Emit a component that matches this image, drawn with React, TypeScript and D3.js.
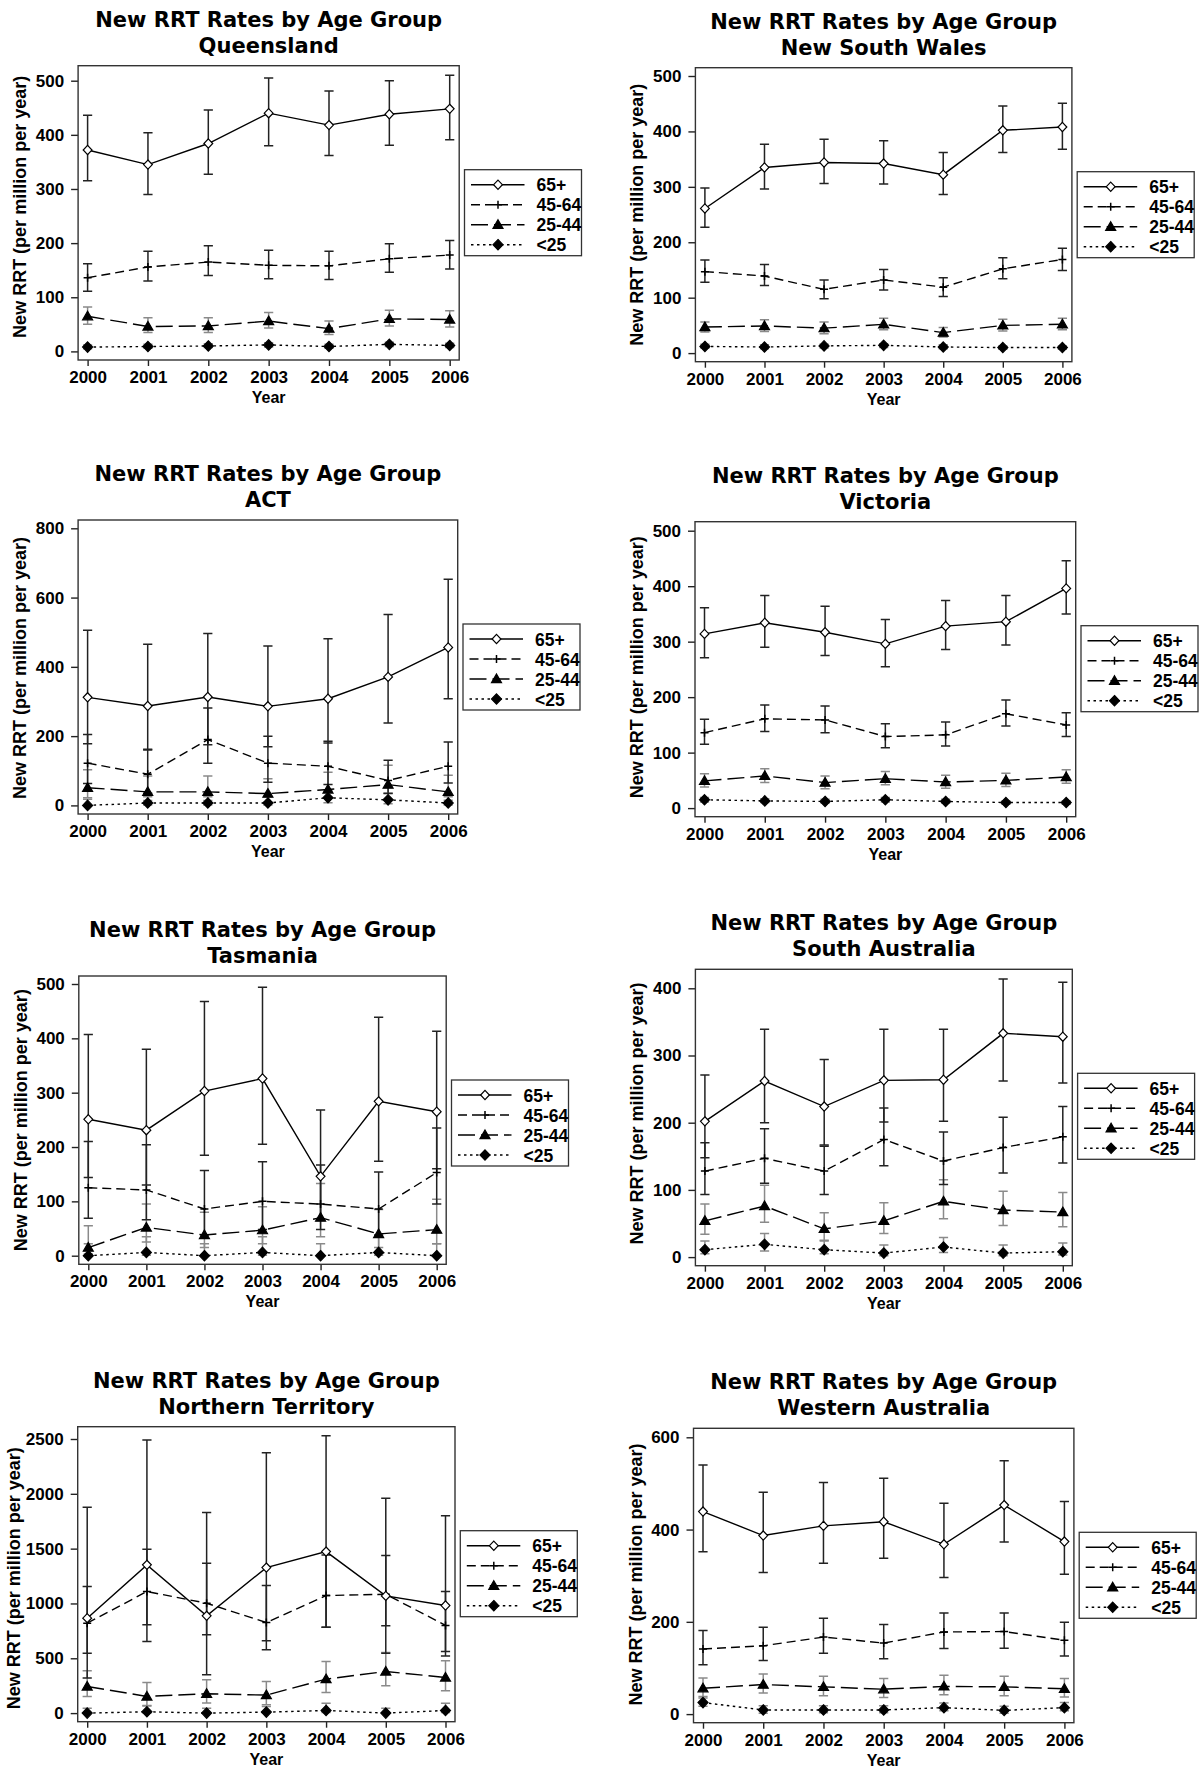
import * as d3 from 'd3';
import * as React from 'react';
import { useEffect, useRef } from 'react';

// each point is [rate, lower CI, upper CI] in new RRT per million per year
type Est = [number, number, number];

const years = [2000, 2001, 2002, 2003, 2004, 2005, 2006];
const ageGroups = ['65+', '45-64', '25-44', '<25'];

const qld65: Est[] = [[372, 315, 436], [345, 290, 404], [384, 327, 446], [440, 380, 505], [418, 362, 481], [438, 381, 500], [448, 391, 510]];
const qld4564: Est[] = [[136, 111, 162], [156, 130, 185], [165, 140, 195], [159, 134, 187], [158, 133, 185], [171, 146, 199], [178, 152, 205]];
const qld2544: Est[] = [[65, 50, 82], [46, 35, 62], [47, 35, 62], [56, 43, 72], [42, 31, 56], [60, 47, 76], [59, 45, 75]];
const qld25: Est[] = [[8, 5, 12], [9, 6, 13], [10, 7, 14], [12, 8, 16], [9, 6, 13], [13, 9, 17], [11, 7, 15]];

const nsw65: Est[] = [[261, 227, 298], [335, 296, 377], [344, 306, 386], [342, 305, 383], [322, 286, 362], [402, 362, 446], [408, 368, 451]];
const nsw4564: Est[] = [[147, 128, 168], [139, 122, 160], [115, 98, 132], [132, 114, 151], [119, 102, 136], [152, 134, 172], [169, 149, 189]];
const nsw2544: Est[] = [[47, 38, 56], [49, 39, 60], [45, 35, 56], [52, 42, 63], [37, 29, 46], [50, 40, 61], [52, 42, 63]];
const nsw25: Est[] = [[12, 9, 16], [11, 8, 15], [13, 9, 16], [14, 10, 17], [11, 8, 15], [10, 7, 13], [10, 7, 13]];

const act65: Est[] = [[312, 178, 506], [287, 162, 465], [313, 175, 496], [286, 169, 460], [308, 180, 481], [371, 238, 551], [456, 308, 653]];
const act4564: Est[] = [[122, 63, 205], [90, 35, 160], [190, 122, 281], [122, 67, 200], [113, 60, 185], [72, 34, 130], [113, 65, 183]];
const act2544: Est[] = [[51, 22, 103], [39, 14, 85], [39, 14, 85], [34, 10, 77], [46, 22, 96], [60, 35, 116], [39, 15, 87]];
const act25: Est[] = [[0, 0, 18], [7, 1, 25], [7, 1, 25], [7, 1, 25], [22, 8, 42], [16, 5, 35], [7, 1, 25]];

const vic65: Est[] = [[314, 271, 361], [334, 290, 383], [317, 275, 364], [296, 255, 340], [328, 286, 374], [336, 294, 383], [396, 350, 446]];
const vic4564: Est[] = [[136, 115, 160], [161, 138, 186], [159, 136, 184], [129, 109, 152], [132, 112, 155], [170, 148, 195], [150, 129, 172]];
const vic2544: Est[] = [[49, 38, 62], [58, 46, 71], [46, 35, 58], [53, 42, 66], [47, 36, 59], [50, 39, 63], [56, 45, 69]];
const vic25: Est[] = [[15, 11, 19], [13, 10, 17], [12, 9, 16], [15, 11, 19], [12, 9, 16], [10, 7, 13], [10, 7, 13]];

const tas65: Est[] = [[251, 144, 407], [231, 130, 380], [303, 185, 468], [326, 205, 494], [146, 67, 268], [284, 174, 439], [265, 160, 413]];
const tas4564: Est[] = [[125, 69, 210], [121, 66, 204], [86, 38, 157], [100, 48, 173], [95, 48, 167], [86, 38, 154], [153, 95, 235]];
const tas2544: Est[] = [[15, 3, 55], [52, 25, 95], [38, 15, 80], [47, 22, 90], [70, 35, 133], [40, 15, 85], [48, 22, 104]];
const tas25: Est[] = [[0, 0, 22], [6, 1, 35], [0, 0, 22], [6, 1, 35], [0, 0, 22], [6, 1, 35], [0, 0, 22]];

const sa65: Est[] = [[202, 148, 271], [262, 200, 339], [224, 167, 294], [263, 201, 339], [264, 202, 339], [333, 262, 414], [328, 259, 409]];
const sa4564: Est[] = [[128, 93, 170], [147, 110, 191], [128, 93, 165], [175, 136, 222], [143, 108, 186], [163, 125, 208], [179, 140, 224]];
const sa2544: Est[] = [[54, 34, 79], [76, 52, 107], [42, 25, 66], [54, 35, 81], [83, 57, 115], [70, 47, 98], [67, 45, 96]];
const sa25: Est[] = [[11, 5, 24], [19, 9, 35], [11, 5, 24], [6, 2, 18], [15, 7, 29], [6, 2, 18], [8, 3, 21]];

const nt65: Est[] = [[866, 319, 1877], [1352, 653, 2491], [887, 349, 1829], [1327, 577, 2375], [1473, 784, 2530], [1069, 547, 1959], [981, 520, 1801]];
const nt4564: Est[] = [[820, 547, 1154], [1109, 805, 1494], [1002, 714, 1367], [826, 659, 1163], [1072, 784, 1443], [1084, 796, 1437], [800, 562, 1109]];
const nt2544: Est[] = [[243, 152, 386], [152, 70, 280], [176, 91, 304], [164, 76, 289], [310, 188, 471], [380, 249, 553], [325, 204, 477]];
const nt25: Est[] = [[0, 0, 45], [12, 1, 65], [0, 0, 45], [9, 1, 60], [24, 5, 90], [0, 0, 45], [24, 5, 90]];

const wa65: Est[] = [[439, 352, 540], [387, 307, 481], [408, 327, 502], [417, 338, 511], [368, 296, 457], [453, 373, 549], [374, 303, 461]];
const wa4564: Est[] = [[141, 107, 181], [148, 116, 188], [167, 132, 208], [154, 120, 194], [178, 142, 219], [179, 143, 219], [160, 126, 199]];
const wa2544: Est[] = [[56, 38, 78], [64, 46, 87], [59, 40, 82], [54, 36, 77], [60, 42, 84], [59, 40, 82], [55, 37, 77]];
const wa25: Est[] = [[25, 17, 35], [9, 2, 18], [9, 3, 18], [9, 3, 18], [14, 7, 24], [8, 2, 17], [14, 7, 25]];

const panels = [
  { region: 'Queensland', yMax: 500, yStep: 100, series: [qld65, qld4564, qld2544, qld25] },
  { region: 'New South Wales', yMax: 500, yStep: 100, series: [nsw65, nsw4564, nsw2544, nsw25] },
  { region: 'ACT', yMax: 800, yStep: 200, series: [act65, act4564, act2544, act25] },
  { region: 'Victoria', yMax: 500, yStep: 100, series: [vic65, vic4564, vic2544, vic25] },
  { region: 'Tasmania', yMax: 500, yStep: 100, series: [tas65, tas4564, tas2544, tas25] },
  { region: 'South Australia', yMax: 400, yStep: 100, series: [sa65, sa4564, sa2544, sa25] },
  { region: 'Northern Territory', yMax: 2500, yStep: 500, series: [nt65, nt4564, nt2544, nt25] },
  { region: 'Western Australia', yMax: 600, yStep: 200, series: [wa65, wa4564, wa2544, wa25] },
];

// plot frame of each panel on the page; pad = gap between frame top and top tick,
// gap/shift = where the y-axis title sits relative to the frame
const frames = [
  { left: 78.1, top: 65.7, right: 459.2, bottom: 360, pad: 15, gap: 52, shift: -6 },
  { left: 695.4, top: 67.7, right: 1071.9, bottom: 361.7, pad: 8.3, gap: 52, shift: 0 },
  { left: 78.1, top: 520, right: 457.7, bottom: 814, pad: 8.3, gap: 52, shift: 1 },
  { left: 695, top: 521.7, right: 1075.7, bottom: 816.7, pad: 9, gap: 52, shift: -2 },
  { left: 78.8, top: 976, right: 446.2, bottom: 1264.3, pad: 8, gap: 52, shift: 0 },
  { left: 695.4, top: 969.3, right: 1072.3, bottom: 1265.7, pad: 19, gap: 52, shift: -4 },
  { left: 77.7, top: 1426.7, right: 455, bottom: 1721.7, pad: 12.3, gap: 58, shift: 4 },
  { left: 693.5, top: 1428.3, right: 1073.9, bottom: 1722.7, pad: 9, gap: 52, shift: -1 },
];

const dashes = ['none', '9,5', '17,6', '2.5,3.5'];
const barColors = ['#222', '#222', '#8a8a8a', '#8a8a8a'];
const markerPaths = [
  'M0,-4.6L4.4,0L0,4.6L-4.4,0Z',
  'M-4,0H4M0,-4V4',
  'M0,-5L5,3.6L-5,3.6Z',
  'M0,-5.2L5,0L0,5.2L-5,0Z',
];
const markerFill = ['#fff', 'none', '#000', '#000'];

const font = '"Liberation Sans", Arial, sans-serif';
const titleFont = '"DejaVu Sans", "Liberation Sans", sans-serif';

const drawMarker = (sel: any, k: number) =>
  sel
    .append('path')
    .attr('d', markerPaths[k])
    .attr('fill', markerFill[k])
    .attr('stroke', '#000')
    .attr('stroke-width', k === 1 ? 1.5 : 1.2);

export default function App() {
  const ref = useRef<SVGSVGElement>(null);

  useEffect(() => {
    if (!ref.current) return;
    const svg = d3.select(ref.current);
    svg.selectAll('*').remove();

    panels.forEach((p, i) => {
      const f = frames[i];
      const x = d3.scaleLinear().domain([2000, 2006]).range([f.left + 9.5, f.right - 9.5]);
      const y = d3.scaleLinear().domain([0, p.yMax]).range([f.bottom - 8.6, f.top + f.pad]);
      const g = svg.append('g');
      const cx = (f.left + f.right) / 2;

      // title
      [['New RRT Rates by Age Group', 39], [p.region, 13]].forEach(([t, dy]) => {
        g.append('text')
          .attr('x', cx)
          .attr('y', f.top - (dy as number))
          .attr('text-anchor', 'middle')
          .attr('font-family', titleFont)
          .attr('font-weight', 'bold')
          .attr('font-size', 21)
          .text(t as string);
      });

      // axes
      const yAxis = g
        .append('g')
        .attr('transform', `translate(${f.left},0)`)
        .call(
          d3
            .axisLeft(y)
            .tickValues(d3.range(0, p.yMax + 1, p.yStep))
            .tickSize(7)
            .tickPadding(7)
            .tickFormat(d3.format('d'))
        );
      const xAxis = g
        .append('g')
        .attr('transform', `translate(0,${f.bottom})`)
        .call(
          d3
            .axisBottom(x)
            .tickValues(years)
            .tickSize(6)
            .tickPadding(5)
            .tickFormat(d3.format('d'))
        );
      [yAxis, xAxis].forEach((a) => {
        a.select('.domain').remove();
        a.selectAll('line').attr('stroke', '#222').attr('stroke-width', 1.4);
        a.selectAll('text')
          .attr('font-family', font)
          .attr('font-weight', 'bold')
          .attr('font-size', 17)
          .attr('fill', '#000');
      });

      g.append('rect')
        .attr('x', f.left)
        .attr('y', f.top)
        .attr('width', f.right - f.left)
        .attr('height', f.bottom - f.top)
        .attr('fill', 'none')
        .attr('stroke', '#333')
        .attr('stroke-width', 1.4);

      g.append('text')
        .attr('transform', `translate(${f.left - f.gap},${(f.top + f.bottom) / 2 + f.shift}) rotate(-90)`)
        .attr('text-anchor', 'middle')
        .attr('font-family', font)
        .attr('font-weight', 'bold')
        .attr('font-size', 18)
        .text('New RRT (per million per year)');
      g.append('text')
        .attr('x', cx)
        .attr('y', f.bottom + 43)
        .attr('text-anchor', 'middle')
        .attr('font-family', font)
        .attr('font-weight', 'bold')
        .attr('font-size', 16)
        .text('Year');

      // error bars, grey ones first
      [3, 2, 1, 0].forEach((k) => {
        const bars = g
          .append('g')
          .attr('stroke', barColors[k])
          .attr('stroke-width', 1.5)
          .attr('fill', 'none');
        p.series[k].forEach((d, j) => {
          const px = x(years[j]);
          bars
            .append('path')
            .attr(
              'd',
              `M${px},${y(d[1])}V${y(d[2])}M${px - 4.6},${y(d[1])}H${px + 4.6}M${px - 4.6},${y(d[2])}H${px + 4.6}`
            );
        });
      });

      const line = d3
        .line<Est>()
        .x((d, j) => x(years[j]))
        .y((d) => y(d[0]));

      [3, 2, 1, 0].forEach((k) => {
        g.append('path')
          .datum(p.series[k])
          .attr('fill', 'none')
          .attr('stroke', '#000')
          .attr('stroke-width', 1.4)
          .attr('stroke-dasharray', dashes[k])
          .attr('d', line);
        p.series[k].forEach((d, j) => {
          const m = g.append('g').attr('transform', `translate(${x(years[j])},${y(d[0])})`);
          drawMarker(m, k);
        });
      });

      // legend
      const lx = f.right + 5.3;
      const ly = f.top + 104;
      const lg = g.append('g').attr('transform', `translate(${lx},${ly})`);
      lg.append('rect')
        .attr('width', 117)
        .attr('height', 86)
        .attr('fill', '#fff')
        .attr('stroke', '#333')
        .attr('stroke-width', 1.3);
      ageGroups.forEach((name, k) => {
        const ry = 15 + k * 20;
        lg.append('line')
          .attr('x1', 6.5)
          .attr('x2', 60)
          .attr('y1', ry)
          .attr('y2', ry)
          .attr('stroke', '#000')
          .attr('stroke-width', 1.4)
          .attr('stroke-dasharray', dashes[k]);
        drawMarker(lg.append('g').attr('transform', `translate(33.5,${ry})`), k);
        lg.append('text')
          .attr('x', 72)
          .attr('y', ry + 6.5)
          .attr('font-family', font)
          .attr('font-weight', 'bold')
          .attr('font-size', 17.5)
          .text(name);
      });
    });
  }, []);

  return (
    <svg
      ref={ref}
      width={1200}
      height={1769}
      style={{ position: 'absolute', left: 0, top: 0, background: '#fff' }}
    />
  );
}
